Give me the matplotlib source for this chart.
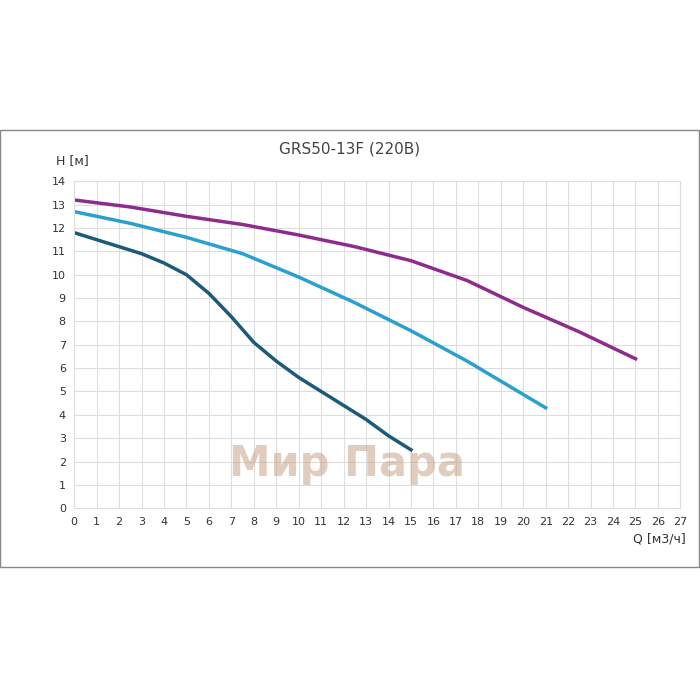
import numpy as np
import matplotlib.pyplot as plt
from matplotlib.patches import Rectangle

# curve points
q_top = [0, 2.5, 5, 7.5, 10, 12.5, 15, 17.5, 20, 22.5, 25]
h_top = [13.2, 12.9, 12.5, 12.15, 11.7, 11.2, 10.6, 9.75, 8.6, 7.55, 6.4]
q_mid = [0, 2.5, 5, 7.5, 10, 12.5, 15, 17.5, 21]
h_mid = [12.7, 12.2, 11.6, 10.9, 9.9, 8.8, 7.6, 6.3, 4.3]
q_low = [0, 2, 3, 4, 5, 6, 7, 8, 9, 10, 11, 12, 13, 14, 15]
h_low = [11.8, 11.2, 10.9, 10.5, 10.0, 9.2, 8.2, 7.1, 6.3, 5.6, 5.0, 4.4, 3.8, 3.1, 2.5]

fig = plt.figure(figsize=(7, 7), dpi=100)
fig.patches.append(Rectangle((0.0, 0.19), 0.999, 0.624, transform=fig.transFigure,
                             fill=False, edgecolor='#888888', lw=1))
ax = fig.add_axes([0.106, 0.274, 0.866, 0.467])

ax.plot(q_top, h_top, color='#8e2c8e', lw=2.5)
ax.plot(q_mid, h_mid, color='#2aa0cf', lw=2.5)
ax.plot(q_low, h_low, color='#1b5a78', lw=2.5)

ax.set_xlim(0, 27)
ax.set_ylim(0, 14)
ax.set_xticks(range(0, 28))
ax.set_yticks(range(0, 15))
ax.grid(True, color='#dddddd', lw=0.8)
for s in ax.spines.values():
    s.set_color('#dddddd')
ax.tick_params(length=0, labelsize=8, colors='#333333', pad=6)

fig.text(0.5, 0.78, 'GRS50-13F (220В)', ha='center', fontsize=11, color='#444444')
fig.text(0.08, 0.766, 'H [м]', ha='left', fontsize=9, color='#333333')
fig.text(0.98, 0.225, 'Q [м3/ч]', ha='right', fontsize=9, color='#333333')
fig.text(0.495, 0.32, 'Мир Пара', ha='center', fontsize=30, fontweight='bold',
         color='#c9a48a', alpha=0.55)

fig.savefig('out.png')
